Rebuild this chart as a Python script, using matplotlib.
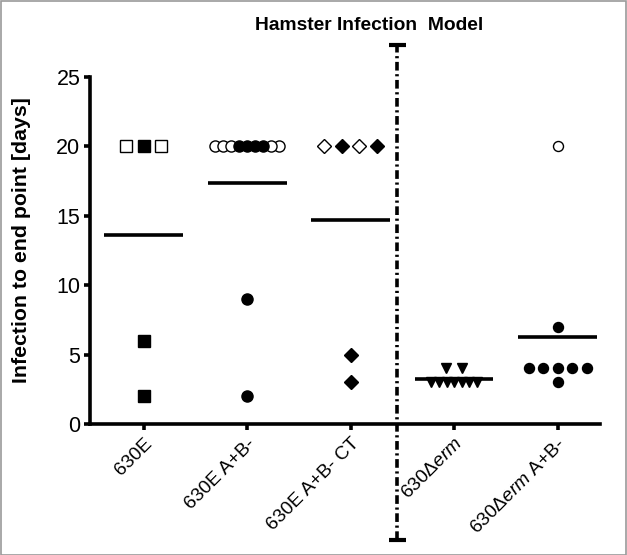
import numpy as np
import matplotlib
matplotlib.use("Agg")
import matplotlib.pyplot as plt
from matplotlib.patches import Rectangle
import matplotlib.transforms as mtransforms

# ---------------- data ----------------
categories = ["630E", "630E A+B-", "630E A+B- CT",
              r"630$\Delta$$\mathit{erm}$", r"630$\Delta$$\mathit{erm}$ A+B-"]
vals_630E = [20, 20, 20, 6, 2]
filled_630E = [0, 1, 0, 1, 1]
vals_630E_AB = [20, 20, 20, 20, 20, 20, 20, 20, 20, 9, 2]
filled_630E_AB = [0, 0, 0, 1, 1, 1, 1, 0, 0, 1, 1]
vals_630E_AB_CT = [20, 20, 20, 20, 5, 3]
filled_630E_AB_CT = [0, 1, 0, 1, 1, 1]
vals_630erm = [4, 4, 3, 3, 3, 3, 3, 3, 3]
filled_630erm = [1, 1, 1, 1, 1, 1, 1, 1, 1]
vals_630erm_AB = [20, 7, 4, 4, 4, 4, 4, 3]
filled_630erm_AB = [0, 1, 1, 1, 1, 1, 1, 1]
yticks = [0, 5, 10, 15, 20, 25]

groups = [vals_630E, vals_630E_AB, vals_630E_AB_CT, vals_630erm, vals_630erm_AB]
fills = [filled_630E, filled_630E_AB, filled_630E_AB_CT, filled_630erm, filled_630erm_AB]

# ---------------- style ----------------
plt.rcParams['font.family'] = ['Liberation Sans', 'DejaVu Sans']
plt.rcParams['mathtext.fontset'] = 'custom'
plt.rcParams['mathtext.rm'] = 'Liberation Sans'
plt.rcParams['mathtext.it'] = 'Liberation Sans:italic'
plt.rcParams['mathtext.bf'] = 'Liberation Sans:bold'

markers = ['s', 'o', 'D', 'v', 'o']
msizes = [8.5, 8.0, 7.2, 7.0, 7.2]
base_step = [0.17, 0.17, 0.17, 0.155, 0.14]
max_total = [0.62, 0.62, 0.62, 0.44, 0.62]

fig = plt.figure(figsize=(6.27, 5.55), dpi=100)
W, H = 627, 555
ax_left, ax_right, ax_bottom, ax_top = 90, 600, 424, 77
ax = fig.add_axes([ax_left / W, 1 - ax_bottom / H,
                   (ax_right - ax_left) / W, (ax_bottom - ax_top) / H])
ax.set_xlim(-0.52, 4.41)
ax.set_ylim(0, 25)

for gi, (vals, fl) in enumerate(zip(groups, fills)):
    vals = np.array(vals, dtype=float)
    fl = np.array(fl)
    offs = np.zeros(len(vals))
    for v in np.unique(vals):
        idx = np.where(vals == v)[0]
        n = len(idx)
        if n > 1:
            step = base_step[gi] if n <= 5 else max_total[gi] / (n - 1)
            offs[idx] = (np.arange(n) - (n - 1) / 2) * step
    order = np.argsort(-np.abs(offs), kind='stable')
    for k, i in enumerate(order):
        ax.plot(gi + offs[i], vals[i], marker=markers[gi], ms=msizes[gi],
                mfc='black' if fl[i] else 'white', mec='black', mew=1.0,
                linestyle='none', zorder=3 + k * 0.01, clip_on=False)
    m = vals.mean()
    ax.plot([gi - 0.38, gi + 0.38], [m, m], color='black', lw=2.6,
            solid_capstyle='butt', zorder=5)

for s in ['top', 'right']:
    ax.spines[s].set_visible(False)
for s in ['left', 'bottom']:
    ax.spines[s].set_linewidth(2.6)

ax.set_yticks(yticks)
ax.set_yticklabels([str(t) for t in yticks], fontsize=15.5)
ax.set_xticks(range(len(categories)))
ax.set_xticklabels(categories, rotation=45, ha='right', va='top',
                   rotation_mode='anchor', fontsize=13.8)
ax.tick_params(axis='both', direction='out', length=4, width=2.6, pad=3)
ax.tick_params(axis='x', pad=4)

ax.set_ylabel("Infection to end point [days]", fontsize=15.3,
              fontweight='bold')
ax.yaxis.set_label_coords(-0.115, 0.53)

# divider
xd = 2.45
trans = mtransforms.blended_transform_factory(ax.transData, ax.transAxes)
y_top = (ax_bottom - 45) / (ax_bottom - ax_top)
y_bot = (ax_bottom - 540) / (ax_bottom - ax_top)
ax.plot([xd, xd], [y_bot, y_top], transform=trans, color='black', lw=2.6,
        linestyle=(0, (2.4, 1.0, 0.6, 1.0)), clip_on=False, zorder=6)
for yy in (y_top, y_bot):
    ax.plot([xd - 0.08, xd + 0.08], [yy, yy], transform=trans,
            color='black', lw=3.0, solid_capstyle='butt', clip_on=False,
            zorder=6)

fig.text(369 / W, 1 - 25 / H, "Hamster Infection  Model", ha='center',
         va='center', fontsize=13.9, fontweight='bold')

fig.patches.append(Rectangle((0.0008, 0.0009), 0.998, 0.998,
                             transform=fig.transFigure, fill=False,
                             edgecolor='#9a9a9a', lw=1.2))

fig.savefig("out.png", dpi=100)
